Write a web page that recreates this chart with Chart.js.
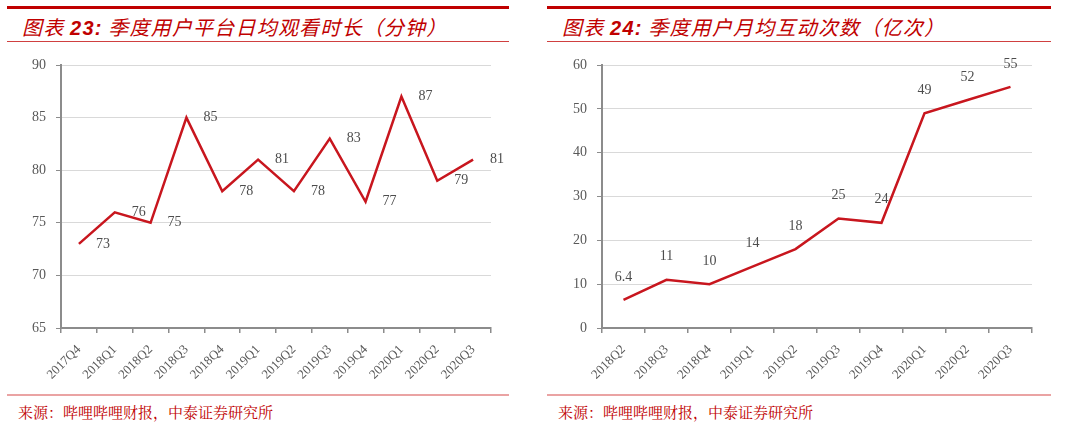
<!DOCTYPE html>
<html>
<head>
<meta charset="utf-8">
<script src="https://cdn.jsdelivr.net/npm/chart.js@4.4.1/dist/chart.umd.min.js"></script>
<style>
  body { margin: 0; background: #fff; width: 1080px; height: 431px; overflow: hidden; position: relative; }
  .panel { position: absolute; top: 0; height: 431px; }
  .bar-top { position: absolute; left: 0; right: 0; top: 6px; height: 3px; background: #c00000; }
  .title { position: absolute; top: 12px; left: 15px; white-space: nowrap; color: #c00000;
           font-family: "Noto Sans CJK SC", sans-serif; font-size: 20px; font-style: italic; letter-spacing: 1.2px; }
  .title b { font-family: "Liberation Sans", Arial, sans-serif; font-weight: bold; font-style: italic; }
  .bar-mid { position: absolute; left: 0; right: 0; top: 41px; height: 1px; background: #d04040; }
  .bar-foot { position: absolute; left: 0; right: 0; top: 394px; height: 2px; background: #eaa3a3; }
  .source { position: absolute; top: 401px; left: 11px; color: #c00000; font-size: 15px;
            font-family: "Noto Serif CJK SC", "Noto Sans CJK SC", serif; white-space: nowrap; }
  canvas { position: absolute; top: 45px; left: 0; }
</style>
</head>
<body>
<div class="panel" id="p1" style="left:7px;width:502px;">
  <div class="bar-top"></div>
  <div class="title">图表 <b>23:</b> 季度用户平台日均观看时长（分钟）</div>
  <div class="bar-mid"></div>
  <canvas id="c1" width="502" height="345"></canvas>
  <div class="bar-foot"></div>
  <div class="source">来源：哔哩哔哩财报，中泰证券研究所</div>
</div>
<div class="panel" id="p2" style="left:547px;width:504px;">
  <div class="bar-top"></div>
  <div class="title">图表 <b>24:</b> 季度用户月均互动次数（亿次）</div>
  <div class="bar-mid"></div>
  <canvas id="c2" width="504" height="345"></canvas>
  <div class="bar-foot"></div>
  <div class="source">来源：哔哩哔哩财报，中泰证券研究所</div>
</div>
<script>
// Chart 23: daily average watch time (minutes)
const quarters23 = ['2017Q4', '2018Q1', '2018Q2', '2018Q3', '2018Q4', '2019Q1', '2019Q2', '2019Q3', '2019Q4', '2020Q1', '2020Q2', '2020Q3'];
const watchMinutes = [73, 76, 75, 85, 78, 81, 78, 83, 77, 87, 79, 81];
const watchTicks = [65, 70, 75, 80, 85, 90];

// Chart 24: monthly interactions (100 million)
const quarters24 = ['2018Q2', '2018Q3', '2018Q4', '2019Q1', '2019Q2', '2019Q3', '2019Q4', '2020Q1', '2020Q2', '2020Q3'];
const interactions = [6.4, 11, 10, 14, 18, 25, 24, 49, 52, 55];
const interactionTicks = [0, 10, 20, 30, 40, 50, 60];

const axisGray = '#8c8c8c';
const textGray = '#595959';
const lineRed = '#c8161e';
const serif = '"Liberation Serif", "Times New Roman", serif';

// draws value labels next to each point
const pointLabels = {
    id: 'pointLabels',
    afterDatasetsDraw(chart, args, opts) {
        const ctx = chart.ctx;
        const meta = chart.getDatasetMeta(0);
        const data = chart.data.datasets[0].data;
        ctx.save();
        ctx.font = '14px ' + serif;
        ctx.fillStyle = '#4d4d4d';
        ctx.textAlign = 'center';
        ctx.textBaseline = 'middle';
        meta.data.forEach((pt, i) => {
            ctx.fillText(String(data[i]), pt.x + opts.dx, pt.y + opts.dy);
        });
        ctx.restore();
    }
};

function makeChart(id, labels, values, ticks, yWidth, padRight, labelOffset) {
    const ctx = document.getElementById(id).getContext('2d');
    return new Chart(ctx, {
        type: 'line',
        data: {
            labels: labels,
            datasets: [{
                data: values,
                borderColor: lineRed,
                borderWidth: 2.5,
                pointRadius: 0,
                tension: 0,
                fill: false
            }]
        },
        options: {
            responsive: false,
            animation: false,
            layout: { padding: { top: 20, right: padRight, left: 0, bottom: 0 } },
            plugins: {
                legend: { display: false },
                tooltip: { enabled: false },
                pointLabels: labelOffset
            },
            scales: {
                x: {
                    offset: true,
                    grid: { offset: true, drawOnChartArea: false, tickLength: 5, tickColor: axisGray, lineWidth: 1.5 },
                    border: { color: axisGray, width: 2 },
                    ticks: {
                        minRotation: 45, maxRotation: 45, padding: 9,
                        color: textGray,
                        font: { family: serif, size: 13 }
                    },
                    afterFit(scale) { scale.height = 62; }
                },
                y: {
                    min: ticks[0],
                    max: ticks[ticks.length - 1],
                    afterBuildTicks(scale) { scale.ticks = ticks.map(v => ({ value: v })); },
                    grid: { color: '#d9d9d9', lineWidth: 1, tickLength: 5, tickColor: axisGray },
                    border: { color: axisGray, width: 2 },
                    ticks: {
                        padding: 10,
                        color: textGray,
                        font: { family: serif, size: 14 }
                    },
                    afterFit(scale) { scale.width = yWidth; }
                }
            }
        },
        plugins: [pointLabels]
    });
}

makeChart('c1', quarters23, watchMinutes, watchTicks, 54, 18, { dx: 24, dy: 0 });
makeChart('c2', quarters24, interactions, interactionTicks, 55, 19, { dx: 0, dy: -23 });
</script>
</body>
</html>
